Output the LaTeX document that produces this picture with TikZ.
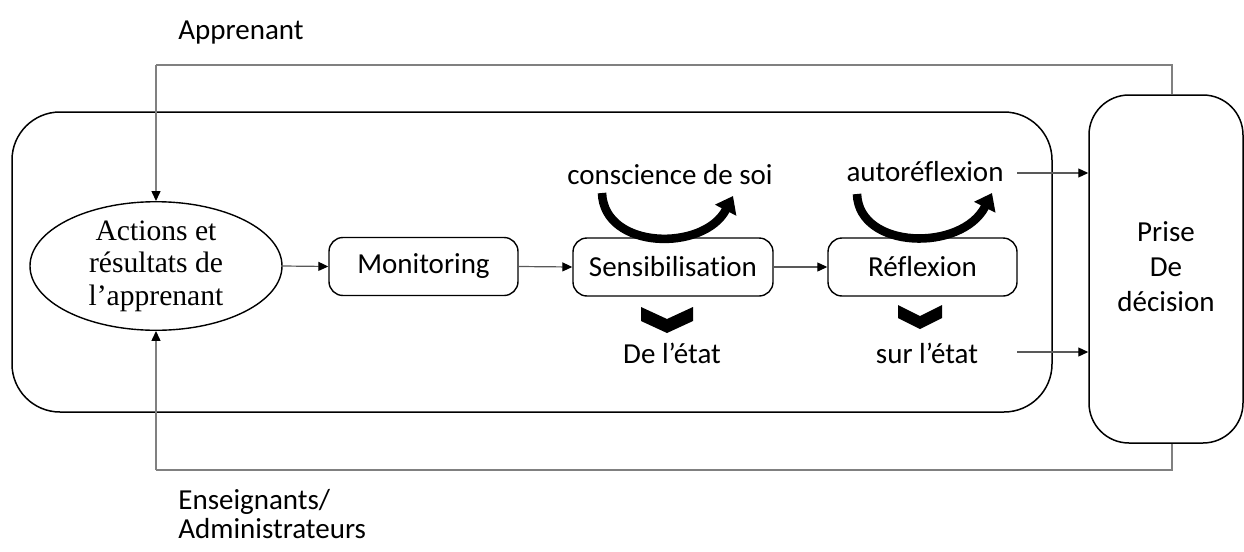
\documentclass[tikz,border=0pt]{standalone}
\usepackage{fontspec}
\setmainfont{Carlito}[Ligatures={NoCommon}]
\newfontfamily\timesf{Liberation Serif}
\usetikzlibrary{shapes.geometric,arrows.meta}
\begin{document}
\begin{tikzpicture}[x=0.5pt,y=-0.5pt,
  lbl/.style={font=\fontsize{14.5}{17.5}\selectfont, inner sep=0pt},
  stagebox/.style={draw, line width=0.7pt, rounded corners=7pt, minimum height=29pt,
    font=\fontsize{14.5}{17.5}\selectfont, inner sep=0pt},
  conn/.style={draw=black!65, line width=0.6pt, -{Triangle[length=5pt,width=4.5pt,color=black]}},
  fb/.style={draw=black!50, line width=0.7pt},
  bendarrow/.style={line width=4.3pt, -{Triangle[length=8pt,width=11.5pt]}},
  chev/.style={fill=black}]
\useasboundingbox (0,0) rectangle (1244,552);

% frame and decision box
\node[draw, line width=0.75pt, rounded corners=24pt, minimum width=520pt, minimum height=150pt, inner sep=0pt] (frame) at (532,262) {};
\node[draw, line width=0.75pt, rounded corners=20pt, minimum width=77pt, minimum height=174pt,
  inner sep=0pt, align=center, font=\fontsize{14.5}{17.5}\selectfont] (prise) at (1166,269) {\raisebox{-5pt}{\begin{tabular}{@{}c@{}}Prise\\De\\décision\end{tabular}}};

% main chain
\node[draw, ellipse, line width=0.7pt, minimum width=126pt, minimum height=61.5pt, inner sep=0pt,
  align=center, font=\timesf\fontsize{14.8}{16.25}\selectfont] (act) at (156,266) {Actions et\\résultats de\\l’apprenant};
\node[stagebox, minimum width=94.5pt] (mon) at (423.5,266.5) {Monitoring};
\node[stagebox, minimum width=100pt] (sens) at (673,267) {Sensibilisation};
\node[stagebox, minimum width=94.5pt] (refl) at (922.5,267) {Réflexion};

\draw[conn] (act.east) -- (mon.west);
\draw[conn] (mon.east) -- (sens.west);
\draw[conn] (sens.east) -- (refl.west);

% labels
\node[lbl] (cons) at (670,175) {conscience de soi};
\node[lbl] (auto) at (925,172) {autoréflexion};
\node[lbl] (etat1) at (672,353) {De l’état};
\node[lbl] (etat2) at (927,353) {sur l’état};
\node[lbl, anchor=west] (appr) at (178,33) {Apprenant};
\node[lbl, anchor=west, align=left, font=\fontsize{14.5}{14.5}\selectfont] (ens) at (178,514) {Enseignants/\\Administrateurs};

% thick curved arrows
\draw[bendarrow] (602,193) .. controls (604,250) and (704,252) .. (733,196);
\draw[bendarrow] (857,194) .. controls (859,250) and (962,252) .. (992,193);

% chevrons
\fill[chev] (641,307) -- (667,319) -- (693,307) -- (693,321) -- (667,333) -- (641,321) -- cycle;
\fill[chev] (898,305) -- (920,316) -- (942,305) -- (942,318) -- (920,329) -- (898,318) -- cycle;

% arrows into decision
\coordinate (a1) at (1017,173);
\coordinate (a2) at (1017,352);
\draw[conn] (a1) -- (a1 -| prise.west);
\draw[conn] (a2) -- (a2 -| prise.west);

% feedback loops
\coordinate (t1) at (1172,65);
\coordinate (b1) at (1172,470);
\draw[fb] (t1 |- prise.north) -- (t1) -- (t1 -| act.north);
\draw[fb, -{Triangle[length=5pt,width=4.5pt,color=black]}] (t1 -| act.north) -- (act.north);
\draw[fb] (b1 |- prise.south) -- (b1) -- (b1 -| act.south);
\draw[fb, -{Triangle[length=5pt,width=4.5pt,color=black]}] (b1 -| act.south) -- (act.south);
\end{tikzpicture}
\end{document}
